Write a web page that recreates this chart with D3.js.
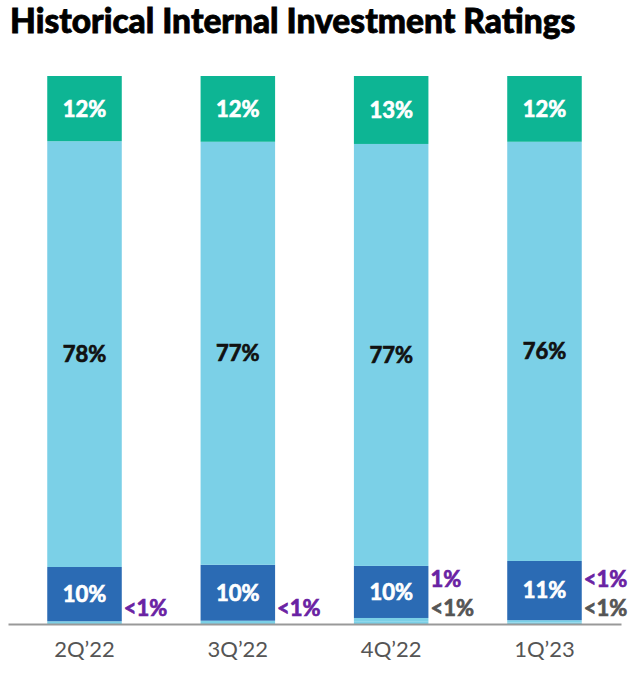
<!DOCTYPE html>
<html>
<head>
<meta charset="utf-8">
<script src="https://cdn.jsdelivr.net/npm/d3@7"></script>
<style>
  body { margin: 0; background: #fff; }
  text { font-family: Lato, "Noto Sans", sans-serif; }
</style>
</head>
<body>
<svg id="ratings" width="640" height="682"></svg>
<script>
var quarters = ["2Q\u201922", "3Q\u201922", "4Q\u201922", "1Q\u201923"];

// shares per rating bucket, bottom to top
var grey      = [0, 0, 0.4, 0.3];
var purple    = [0.5, 0.6, 0.7, 0.4];
var darkBlue  = [9.9, 10.2, 9.5, 10.8];
var lightBlue = [77.7, 77.2, 77.0, 76.5];
var green     = [11.9, 12.0, 12.4, 12.0];

var darkLabels   = ["10%", "10%", "10%", "11%"];
var lightLabels  = ["78%", "77%", "77%", "76%"];
var greenLabels  = ["12%", "12%", "13%", "12%"];
var purpleLabels = ["<1%", "<1%", "1%", "<1%"];
var greyLabels   = ["", "", "<1%", "<1%"];

function drawChart(){
    var svg = d3.select("#ratings");

    var rows = quarters.map(function(q, i) {
        return {q: q, grey: grey[i], purple: purple[i], darkBlue: darkBlue[i],
                lightBlue: lightBlue[i], green: green[i]};
    });
    var keys = ["grey", "purple", "darkBlue", "lightBlue", "green"];
    var fills = {grey: "#7bd0e7", purple: "#7bd0e7", darkBlue: "#2b6bb4",
                 lightBlue: "#7bd0e7", green: "#0db594"};
    var inLabels = {darkBlue: darkLabels, lightBlue: lightLabels, green: greenLabels};
    var inColor = {darkBlue: "#fff", lightBlue: "#111", green: "#fff"};

    var stack = d3.stack().keys(keys)(rows);

    var x = d3.scaleBand()
        .domain(quarters)
        .range([8, 621])
        .paddingInner(0.514)
        .paddingOuter(0.256);

    var y = d3.scaleLinear()
        .domain([0, 100])
        .range([624, 76]);

    svg.append("text")
        .attr("x", 10)
        .attr("y", 33)
        .attr("font-size", 33.5)
        .attr("font-weight", 900)
        .attr("fill", "#000")
        .attr("stroke", "#000")
        .attr("stroke-width", 0.8)
        .text("Historical Internal Investment Ratings");

    var layers = svg.selectAll(".layer")
        .data(stack)
        .enter().append("g")
        .attr("class", "layer")
        .attr("fill", function(d) { return fills[d.key]; });

    layers.selectAll("rect")
        .data(function(d) { return d; })
        .enter().append("rect")
        .attr("x", function(d) { return x(d.data.q); })
        .attr("width", x.bandwidth())
        .attr("y", function(d) { return y(d[1]); })
        .attr("height", function(d) { return y(d[0]) - y(d[1]); });

    layers.filter(function(d) { return inLabels[d.key]; })
        .selectAll("text")
        .data(function(d) { return d.map(function(p, i) { return {p: p, key: d.key, i: i}; }); })
        .enter().append("text")
        .attr("x", function(d) { return x(d.p.data.q) + x.bandwidth() / 2; })
        .attr("y", function(d) { return (y(d.p[0]) + y(d.p[1])) / 2; })
        .attr("dy", "0.36em")
        .attr("text-anchor", "middle")
        .attr("font-size", 22)
        .attr("font-weight", 700)
        .attr("fill", function(d) { return inColor[d.key]; })
        .attr("stroke", function(d) { return inColor[d.key]; })
        .attr("stroke-width", 0.7)
        .text(function(d) { return inLabels[d.key][d.i]; });

    // small buckets are labelled beside the bar, stacked upward from the base
    quarters.forEach(function(q, i) {
        var side = [];
        if (greyLabels[i]) side.push({t: greyLabels[i], c: "#555"});
        if (purpleLabels[i]) side.push({t: purpleLabels[i], c: "#6a22a3"});
        svg.selectAll(null)
            .data(side)
            .enter().append("text")
            .attr("x", x(q) + x.bandwidth() + 2)
            .attr("y", function(d, j) { return y(0) - 8 - j * 29; })
            .attr("font-size", 22)
            .attr("font-weight", 700)
            .attr("fill", function(d) { return d.c; })
            .attr("stroke", function(d) { return d.c; })
            .attr("stroke-width", 0.7)
            .text(function(d) { return d.t; });
    });

    var xAxis = svg.append("g")
        .attr("transform", "translate(0," + y(0) + ")")
        .call(d3.axisBottom(x).tickSize(0).tickPadding(17).tickSizeOuter(0));
    xAxis.select(".domain")
        .attr("stroke", "#999")
        .attr("stroke-width", 2);
    xAxis.selectAll(".tick text")
        .attr("font-family", "Lato, 'Noto Sans', sans-serif")
        .attr("font-size", 22)
        .attr("fill", "#555");
}

drawChart();
</script>
</body>
</html>
